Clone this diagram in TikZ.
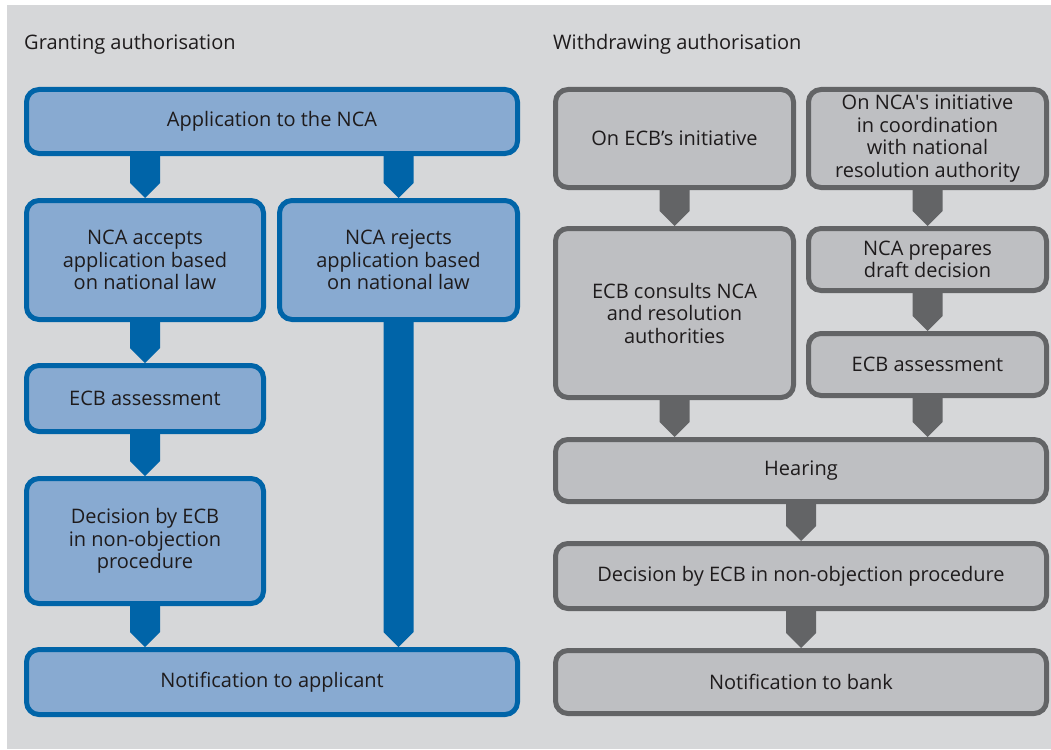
\documentclass[tikz,border=0pt]{standalone}
\usepackage{fontspec}
\setmainfont{Open Sans}
\usetikzlibrary{calc}
\definecolor{bg}{HTML}{D6D7D9}
\definecolor{bfill}{HTML}{88AAD1}
\definecolor{bline}{HTML}{0064A8}
\definecolor{gfill}{HTML}{BEBFC2}
\definecolor{gline}{HTML}{636466}
\definecolor{txt}{HTML}{1E1B1C}
\tikzset{
  box/.style={rounded corners=12.5pt, line width=5pt, align=center, inner sep=0pt,
    text=txt, font=\fontsize{20}{22.5}\selectfont},
  bluebox/.style={box, draw=bline, fill=bfill},
  graybox/.style={box, draw=gline, fill=gfill},
  title/.style={anchor=base west, inner sep=0pt, text=txt, font=\fontsize{20}{22.5}\selectfont},
}
\newcommand{\flowarrow}[4]{%
  \fill[#1] ($(#3.south -| #2)+(-15,-2)$) -- ($(#4.north -| #2)+(-15,-15)$)
    -- (#4.north -| #2) -- ($(#4.north -| #2)+(15,-15)$)
    -- ($(#3.south -| #2)+(15,-2)$) -- cycle;}
\begin{document}
\begin{tikzpicture}[x=1pt,y=-1pt]
\useasboundingbox (0,0) rectangle (1051,749);
\fill[white] (0,0) rectangle (1051,749);
\fill[bg] (7,5) rectangle (1051,749);

\node[title] (t1) at (24,50) {Granting authorisation};
\node[title] (t2) at (553,50) {Withdrawing authorisation};

% left column
\node[bluebox, minimum width=491, minimum height=64] (app) at (272,121.5) {Application to the NCA};
\node[bluebox, minimum width=237, minimum height=119] (acc) at (145,260) {NCA accepts\\application based\\on national law};
\node[bluebox, minimum width=238, minimum height=119] (rej) at (398.5,260) {NCA rejects\\application based\\on national law};
\node[bluebox, minimum width=237, minimum height=66] (ecbl) at (145,398.5) {ECB assessment};
\node[bluebox, minimum width=237, minimum height=125] (dec) at (145,541) {Decision by ECB\\in non-objection\\procedure};
\node[bluebox, minimum width=491, minimum height=65] (nota) at (272,682) {Notification to applicant};

\flowarrow{bline}{acc}{app}{acc}
\flowarrow{bline}{rej}{app}{rej}
\flowarrow{bline}{acc}{acc}{ecbl}
\flowarrow{bline}{ecbl}{ecbl}{dec}
\flowarrow{bline}{dec}{dec}{nota}
\flowarrow{bline}{rej}{rej}{nota}

% right column
\node[graybox, minimum width=238, minimum height=98] (ecbi) at (674.5,138.5) {On ECB’s initiative};
\node[graybox, minimum width=238, minimum height=98] (ncai) at (927.5,138.5) {On NCA\textquotesingle s initiative\\in coordination\\with national\\resolution authority};
\node[graybox, minimum width=238, minimum height=169] (cons) at (674.5,313) {ECB consults NCA\\and resolution\\authorities};
\node[graybox, minimum width=238, minimum height=62] (prep) at (927.5,259.5) {NCA prepares\\draft decision};
\node[graybox, minimum width=238, minimum height=62] (ecbr) at (927.5,364.5) {ECB assessment};
\node[graybox, minimum width=491, minimum height=62] (hear) at (801,470.5) {Hearing};
\node[graybox, minimum width=491, minimum height=65] (decr) at (801,576) {Decision by ECB in non-objection procedure};
\node[graybox, minimum width=491, minimum height=63] (notb) at (801,682) {Notification to bank};

\flowarrow{gline}{ecbi}{ecbi}{cons}
\flowarrow{gline}{ncai}{ncai}{prep}
\flowarrow{gline}{prep}{prep}{ecbr}
\flowarrow{gline}{cons}{cons}{hear}
\flowarrow{gline}{ecbr}{ecbr}{hear}
\flowarrow{gline}{hear}{hear}{decr}
\flowarrow{gline}{decr}{decr}{notb}
\end{tikzpicture}
\end{document}
